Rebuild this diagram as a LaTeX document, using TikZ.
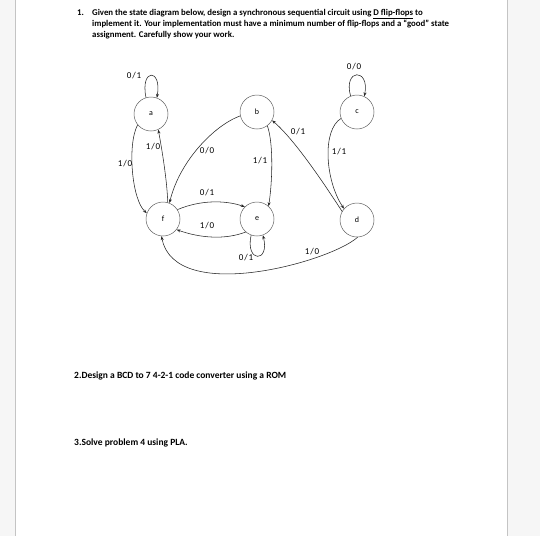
\documentclass[tikz,border=0pt]{standalone}
\usepackage{fontspec}
\setmainfont{Carlito}
\newfontfamily\labfont[LetterSpace=10]{Carlito}
\usetikzlibrary{arrows.meta}
\definecolor{pagegray}{HTML}{F6F6F6}
\definecolor{edgegray}{HTML}{C4C4C4}
\definecolor{circgray}{HTML}{606060}
\tikzset{
  state/.style={circle,draw=circgray,line width=0.5pt,minimum size=34pt,inner sep=0pt,font=\fontsize{8}{9}\selectfont},
  edge/.style={draw=black!85,line width=0.55pt,-{Stealth[length=4pt,width=3pt]}},
  lab/.style={font=\labfont\fontsize{9}{10}\selectfont,inner sep=0pt},
  para/.style={anchor=base west,inner sep=0pt,font=\bfseries\fontsize{8.8}{10}\selectfont},
  parb/.style={anchor=base west,inner sep=0pt,font=\bfseries\fontsize{9.5}{10}\selectfont}
}
\begin{document}
\begin{tikzpicture}[x=1pt,y=-1pt]
\useasboundingbox (0,0) rectangle (540,536);
\fill[pagegray] (0,0) rectangle (540,536);
\fill[white] (16,0) rectangle (507,536);
\draw[edgegray,line width=1.3pt] (15.5,0) -- (15.5,536);
\draw[edgegray,line width=1.3pt] (507.5,0) -- (507.5,536);

% text
\node[para] (n1) at (77,15) {1.};
\node[para] (q1a) at (92,15) {Given the state diagram below, design a synchronous sequential circuit using \underline{D flip-flops} to};
\node[para] (q1b) at (92,26.5) {implement it. Your implementation must have a minimum number of flip-flops and a “good” state};
\node[para] (q1c) at (92,37) {assignment. Carefully show your work.};
\node[parb] (q2) at (74,378.5) {2.Design a BCD to 7 4-2-1 code converter using a ROM};
\node[parb] (q3) at (74,445.5) {3.Solve problem 4 using PLA.};

% states
\node[state] (a) at (151,114) {a};
\node[state] (b) at (257,112) {b};
\node[state] (c) at (357,112) {c};
\node[state] (f) at (163,219) {f};
\node[state] (e) at (257,219) {e};
\node[state] (d) at (357,220) {d};

% loops
\draw[edge] (a.107) .. controls (140,68) and (162,68) .. (a.70);
\draw[edge] (c.112) .. controls (343,68) and (370,68) .. (c.65);
\draw[edge] (e.250) .. controls (245,263) and (270,263) .. (e.290);

% transitions
\draw[edge] (a.219) .. controls (127,145) and (132,200) .. (f.160);
\draw[edge] (f.74) .. controls (167,180) and (162,150) .. (a.295);
\draw[edge] (b.193) .. controls (215,125) and (180,160) .. (f.68);
\draw[edge] (b.307) .. controls (274,145) and (272,185) .. (e.48);
\draw[edge] (d.150) .. controls (325,185) and (295,140) .. (b.331);
\draw[edge] (c.202) .. controls (322,130) and (325,180) .. (d.139);
\draw[edge] (f.33) .. controls (200,200) and (225,200) .. (e.135);
\draw[edge] (e.229) .. controls (225,240) and (200,238) .. (f.322);
\draw[edge] (d.272) .. controls (330,262) and (175,305) .. (f.265);

% labels
\node[lab] (la) at (134,76) {0/1};
\node[lab] (lc) at (354,67) {0/0};
\node[lab] (le) at (246,258) {0/1};
\node[lab] (laf) at (125,164) {1/0};
\node[lab] (lfa) at (153,147) {1/0};
\node[lab] (lbf) at (207,151) {0/0};
\node[lab] (lbe) at (260,161) {1/1};
\node[lab] (ldb) at (298,132) {0/1};
\node[lab] (lcd) at (339,152) {1/1};
\node[lab] (lfe) at (207,193) {0/1};
\node[lab] (lef) at (207,226) {1/0};
\node[lab] (ldf) at (312,252) {1/0};
\end{tikzpicture}
\end{document}
